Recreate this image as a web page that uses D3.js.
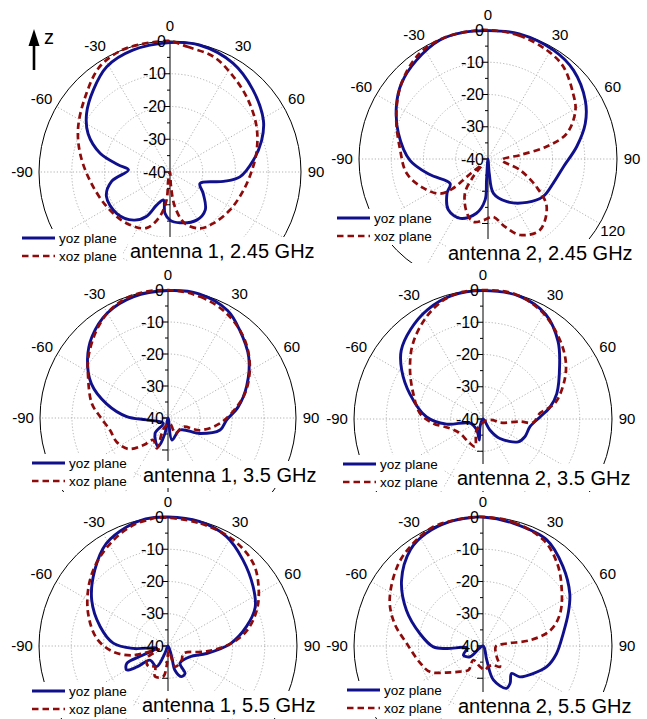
<!DOCTYPE html>
<html>
<head>
<meta charset="utf-8">
<script src="https://cdn.jsdelivr.net/npm/d3@7"></script>
<style>
  body { margin: 0; background: #fff; }
  svg { display: block; font-family: "Liberation Sans", Arial, sans-serif; }
</style>
</head>
<body>
<svg id="chart" width="647" height="719"></svg>
<script>
/*
  Radiation patterns, 6 polar panels
  each series is [angle (deg, 0 = up, clockwise), gain (dB)]
*/
var angleTicks = [0, 30, 60, 90, 120, 150, 180, -150, -120, -90, -60, -30];
var dbTicks = [0, -10, -20, -30, -40];
var gridDb = [-10, -20, -30];
var seriesNames = ["yoz plane", "xoz plane"];
var titles = ["antenna 1, 2.45 GHz", "antenna 2, 2.45 GHz", "antenna 1, 3.5 GHz",
              "antenna 2, 3.5 GHz", "antenna 1, 5.5 GHz", "antenna 2, 5.5 GHz"];

var a1_245_yoz = [[0,-0.5],[13,-0.2],[30,-1.6],[45,-4.3],[61,-7.4],[71,-10.4],[82,-14.3],[94,-18.6],[100,-23.4],[111,-30.2],[123,-27.9],[137,-24.2],[151,-23.2],[169,-24.2],[180,-25.3],[-173,-27.3],[-167,-31.2],[-158,-29.1],[-152,-24.6],[-143,-21.6],[-128,-19.4],[-111,-19.2],[-99,-22],[-87,-27.3],[-82,-24],[-75,-17.9],[-65,-12.4],[-55,-8.9],[-43,-5.7],[-31,-2.5],[-17,-1.1]];
var a1_245_xoz = [[0,0],[8,-1.4],[21,-2.4],[34,-5.1],[47,-7.5],[62,-10.1],[76,-12.7],[89,-15],[104,-16.9],[122,-18.3],[140,-19.5],[152,-20.5],[164,-23.7],[172,-29.3],[176,-35.5],[180,-40],[-168,-37.5],[-173,-31.4],[-167,-26],[-157,-21.4],[-140,-19.5],[-119,-18],[-96,-15.4],[-78,-11.9],[-64,-8.8],[-48,-5.3],[-34,-1.4],[-22,0],[-12,0],[-4,0]];

var a2_245_yoz = [[0,-0.2],[14,0],[31,-0.6],[44,-1.8],[59,-4.8],[70,-7.9],[82,-12.2],[96,-16.5],[110,-18.4],[124,-19.3],[138,-21.9],[156,-25.5],[171,-29.2],[175,-35.5],[180,-40],[-176,-33.5],[-176,-27.3],[-168,-22.8],[-155,-19.7],[-142,-20],[-130,-23.4],[-123,-26],[-105,-21.3],[-91,-15.8],[-74,-11.1],[-60,-7.2],[-49,-4.4],[-36,-2.2],[-22,-0.2],[-11,0]];
var a2_245_xoz = [[0,0],[14,-0.5],[28,-1.6],[39,-3],[52,-6.6],[61,-9],[72,-14.3],[78,-21.4],[83,-30],[94,-35.7],[109,-29.5],[120,-22.6],[129,-16.6],[144,-12.7],[157,-14.4],[166,-18.4],[175,-22],[-176,-21],[-167,-20],[-159,-21.9],[-146,-27.2],[-140,-32.9],[-134,-37.3],[-130,-31.4],[-130,-25.9],[-126,-21.7],[-114,-18],[-100,-14.4],[-84,-12.6],[-65,-8.6],[-49,-4.4],[-33,-1],[-19,0],[-7,0]];

var a1_35_yoz = [[0,-0.2],[14,0],[29,-1.6],[39,-4.5],[53,-8.4],[68,-13.5],[81,-17.8],[92,-21.7],[103,-23.3],[116,-28.9],[135,-34.7],[170,-33],[180,-40],[-169,-35.1],[-161,-30.5],[-140,-33.7],[-138,-37.8],[-95,-33.3],[-88,-27.1],[-77,-20.3],[-66,-13.8],[-54,-8.9],[-43,-5.2],[-30,-2.1],[-16,-0.6]];
var a1_35_xoz = [[0,0],[15,-0.8],[29,-2.5],[43,-5.4],[56,-9.2],[70,-13.9],[81,-18.3],[96,-23.7],[111,-29.3],[120,-34.5],[155,-34.7],[160,-38],[-160,-37],[-158,-34.8],[-160,-29.9],[-146,-31.7],[-138,-28.6],[-128,-24.3],[-115,-22.3],[-102,-21.5],[-89,-18.8],[-79,-15.7],[-61,-11.4],[-52,-8.5],[-39,-4.6],[-28,-1.7],[-16,-0.1]];

var a2_35_yoz = [[0,-0.2],[17,-0.3],[31,-2.2],[44,-6.5],[55,-11],[71,-15.8],[80,-18.9],[88,-22.3],[99,-25.2],[113,-25.9],[123,-27],[139,-32],[148,-36],[180,-40],[-159,-37.4],[-170,-33.4],[-150,-36.1],[-108,-35.8],[-98,-28.6],[-88,-22.5],[-71,-16],[-59,-10.6],[-50,-6.9],[-39,-4.3],[-27,-2],[-14,-0.5]];
var a2_35_xoz = [[0,0],[14,0],[28,-1.9],[41,-5],[53,-8.1],[63,-11.4],[76,-16.4],[80,-18.9],[84,-22.2],[94,-24.4],[94,-28.5],[102,-34.6],[96,-36.9],[120,-39],[-150,-36],[-164,-31.1],[-147,-31.6],[-122,-31.6],[-106,-29.4],[-95,-24.5],[-85,-20.4],[-70,-17],[-56,-12.7],[-43,-8.1],[-29,-3.8],[-18,-1.1],[-9,-0.1]];

var a1_55_yoz = [[0,0],[14,-0.2],[28,-1.5],[41,-4.6],[55,-7.8],[66,-10.4],[76,-14.9],[88,-20.7],[101,-27.8],[116,-32.4],[145,-33.5],[148,-30],[156,-29.6],[164,-32.2],[161,-36.5],[180,-40],[-157,-37.5],[-151,-32.7],[-128,-32.9],[-124,-28.4],[-120,-25.2],[-113,-26.1],[-110,-31.8],[-101,-36.4],[-94,-29.2],[-87,-23],[-74,-18.1],[-59,-12.4],[-44,-7.3],[-31,-2.9],[-19,-0.9],[-10,0]];
var a1_55_xoz = [[-4,0],[15,-0.7],[32,-1.4],[46,-3.2],[57,-6.5],[68,-10.3],[79,-15.1],[88,-20.7],[98,-27.9],[116,-34.7],[136,-33.9],[161,-33.2],[170,-38.5],[-176,-33.6],[-171,-30.4],[-157,-29.7],[-148,-32.4],[-136,-31.2],[-120,-32.4],[-110,-37],[-105,-28.9],[-96,-22.9],[-84,-17.8],[-68,-13.3],[-53,-9.2],[-41,-6.1],[-27,-3],[-16,-1],[-8,-0.3]];

var a2_55_yoz = [[0,0],[14,-0.8],[31,-1.6],[45,-5],[59,-8.6],[69,-11.7],[81,-14.8],[96,-17.1],[108,-19.2],[119,-22.3],[130,-25.1],[134,-27.7],[144,-25.7],[151,-25],[163,-29],[165,-35.5],[180,-40],[-130,-34.8],[-115,-33.3],[-97,-35],[-94,-28.7],[-91,-24.6],[-79,-20.1],[-65,-13.8],[-51,-7.5],[-37,-2.6],[-27,-0.9],[-15,-0.1],[-6,0]];
var a2_55_xoz = [[0,0],[14,-0.5],[30,-2.2],[42,-5.6],[53,-9.5],[67,-14],[77,-18.6],[83,-25.3],[84,-32.6],[91,-36],[128,-34.6],[141,-31.7],[152,-33.3],[166,-33.4],[175,-32.5],[-172,-33.5],[-145,-34.7],[-149,-31.3],[-138,-29.3],[-126,-26],[-116,-21.7],[-105,-19.8],[-88,-16.3],[-76,-11.8],[-64,-7.8],[-47,-3.7],[-36,-1.8],[-23,0],[-10,0]];

var yozSeries = [a1_245_yoz, a2_245_yoz, a1_35_yoz, a2_35_yoz, a1_55_yoz, a2_55_yoz];
var xozSeries = [a1_245_xoz, a2_245_xoz, a1_35_xoz, a2_35_xoz, a1_55_xoz, a2_55_xoz];

//panel placement (the source figure is a collage of cropped plots)
var panels = [
  {cx:170, cy:172, R:131, clipX:[0,326],   clipY:[0,263],   legX:22,  legY:238, titleX:130, titleY:258},
  {cx:488, cy:159, R:129, clipX:[326,647], clipY:[0,263],   legX:337, legY:218, titleX:448, titleY:260},
  {cx:168, cy:418, R:128, clipX:[0,326],   clipY:[263,492], legX:32,  legY:463, titleX:143, titleY:482},
  {cx:483, cy:419, R:129, clipX:[326,647], clipY:[263,492], legX:343, legY:464, titleX:457, titleY:485},
  {cx:168, cy:646, R:129, clipX:[0,326],   clipY:[492,719], legX:32,  legY:691, titleX:142, titleY:712},
  {cx:483, cy:646, R:129, clipX:[326,647], clipY:[492,719], legX:347, legY:690, titleX:458, titleY:713}
];

var BLUE = "#10108c", RED = "#8e0b0b";

var svg = d3.select("#chart");
svg.append("rect").attr("width", 647).attr("height", 719).attr("fill", "#fff");

function rad(deg){ return deg * Math.PI / 180; }

function overlaps(a, b){
  return a.x0 < b.x1 && a.x1 > b.x0 && a.y0 < b.y1 && a.y1 > b.y0;
}

//measure title widths up front so hidden labels can be skipped
var probe = svg.append("text").attr("font-size", 20);
var titleWidths = titles.map(function(t){ probe.text(t); return probe.node().getComputedTextLength(); });
probe.remove();

panels.forEach(function(p, i){
  var clipId = "clip" + i;
  svg.append("clipPath").attr("id", clipId).append("rect")
    .attr("x", p.clipX[0]).attr("y", p.clipY[0])
    .attr("width", p.clipX[1] - p.clipX[0]).attr("height", p.clipY[1] - p.clipY[0]);

  var legRect = {x0: p.legX - 3, y0: p.legY - 9, x1: p.legX + 101, y1: p.legY + 27};
  var titleRect = {x0: p.titleX - 2, y0: p.titleY - 21, x1: p.titleX + titleWidths[i] + 2, y1: p.titleY + 6};

  var outer = svg.append("g").attr("clip-path", "url(#" + clipId + ")");
  var g = outer.append("g").attr("transform", "translate(" + p.cx + "," + p.cy + ")");

  var r = d3.scaleLinear().domain([-40, 0]).range([0, p.R]).clamp(true);

  //dotted grid
  g.selectAll(".gc").data(gridDb).enter().append("circle")
    .attr("r", function(d){ return r(d); })
    .attr("fill", "none").attr("stroke", "#a8a8a8").attr("stroke-width", 0.9)
    .attr("stroke-dasharray", "1.2,2");
  g.selectAll(".gr").data(angleTicks.filter(function(a){ return a != 0 && a != 180; })).enter().append("line")
    .attr("x1", 0).attr("y1", 0)
    .attr("x2", function(a){ return p.R * Math.sin(rad(a)); })
    .attr("y2", function(a){ return -p.R * Math.cos(rad(a)); })
    .attr("stroke", "#a8a8a8").attr("stroke-width", 0.9).attr("stroke-dasharray", "1.2,2");

  //outer ring
  g.append("circle").attr("r", p.R).attr("fill", "none").attr("stroke", "#000").attr("stroke-width", 1);

  //radial axis through the centre
  g.append("line").attr("x1", 0).attr("x2", 0).attr("y1", -p.R).attr("y2", p.R)
    .attr("stroke", "#000").attr("stroke-width", 1);
  var tickDb = d3.range(-40, 0.1, 5);
  [-1, 1].forEach(function(side){
    g.selectAll(null).data(tickDb).enter().append("line")
      .attr("x1", function(d){ return d % 10 == 0 ? -6 : -3; }).attr("x2", 0)
      .attr("y1", function(d){ return side * r(d); })
      .attr("y2", function(d){ return side * r(d); })
      .attr("stroke", "#000").attr("stroke-width", 1);
  });

  //curves
  var line = d3.lineRadial()
    .angle(function(d){ return rad(d[0]); })
    .radius(function(d){ return r(d[1]); })
    .curve(d3.curveCatmullRomClosed.alpha(0.5));

  g.append("path").datum(yozSeries[i]).attr("d", line)
    .attr("fill", "none").attr("stroke", BLUE).attr("stroke-width", 2.9).attr("stroke-linejoin", "round");
  g.append("path").datum(xozSeries[i]).attr("d", line)
    .attr("fill", "none").attr("stroke", RED).attr("stroke-width", 2.7)
    .attr("stroke-dasharray", "6.5,4");

  //angle labels, only those not under the legend / title or off the crop
  var lr = p.R + 15;
  var shown = angleTicks.filter(function(a){
    var x = p.cx + lr * Math.sin(rad(a)), y = p.cy - lr * Math.cos(rad(a));
    var box = {x0: x - 13, x1: x + 13, y0: y - 6, y1: y + 6};
    return box.y1 < p.clipY[1] && box.y0 > p.clipY[0] &&
      !overlaps(box, legRect) && !overlaps(box, titleRect);
  });
  g.selectAll(".al").data(shown).enter().append("text")
    .attr("x", function(a){ return lr * Math.sin(rad(a)) - (a < 0 ? 2 : 0); })
    .attr("y", function(a){ return -lr * Math.cos(rad(a)); })
    .attr("dy", "0.35em").attr("text-anchor", "middle")
    .attr("font-size", 15).attr("fill", "#000")
    .text(function(a){ return a; });

  //dB labels
  g.selectAll(".dl").data(dbTicks).enter().append("text")
    .attr("x", -4).attr("y", function(d){ return -r(d); })
    .attr("dy", "0.35em").attr("text-anchor", "end")
    .attr("font-size", 16).attr("fill", "#000")
    .text(function(d){ return d; });

  //legend (white box hides the plot underneath)
  var leg = outer.append("g");
  leg.append("rect").attr("x", legRect.x0).attr("y", legRect.y0)
    .attr("width", legRect.x1 - legRect.x0).attr("height", legRect.y1 - legRect.y0).attr("fill", "#fff");
  seriesNames.forEach(function(name, k){
    var y = p.legY + k * 18;
    leg.append("line").attr("x1", p.legX).attr("x2", p.legX + 33).attr("y1", y).attr("y2", y)
      .attr("stroke", k == 0 ? BLUE : RED).attr("stroke-width", k == 0 ? 2.9 : 2.7)
      .attr("stroke-dasharray", k == 0 ? null : "6.5,4");
    leg.append("text").attr("x", p.legX + 37).attr("y", y).attr("dy", "0.35em")
      .attr("font-size", 13.5).attr("fill", "#000").text(name);
  });

  //title
  outer.append("rect").attr("x", titleRect.x0).attr("y", titleRect.y0)
    .attr("width", titleRect.x1 - titleRect.x0).attr("height", titleRect.y1 - titleRect.y0).attr("fill", "#fff");
  outer.append("text").attr("x", p.titleX).attr("y", p.titleY)
    .attr("font-size", 20).attr("fill", "#000").text(titles[i]);
});

//z direction arrow
svg.append("line").attr("x1", 34).attr("x2", 34).attr("y1", 70).attr("y2", 42)
  .attr("stroke", "#000").attr("stroke-width", 2.6);
svg.append("path").attr("d", "M28.5,46 L39.5,46 L34,29 Z").attr("fill", "#000");
svg.append("text").attr("x", 44).attr("y", 44).attr("font-size", 20).attr("fill", "#000").text("z");
</script>
</body>
</html>
